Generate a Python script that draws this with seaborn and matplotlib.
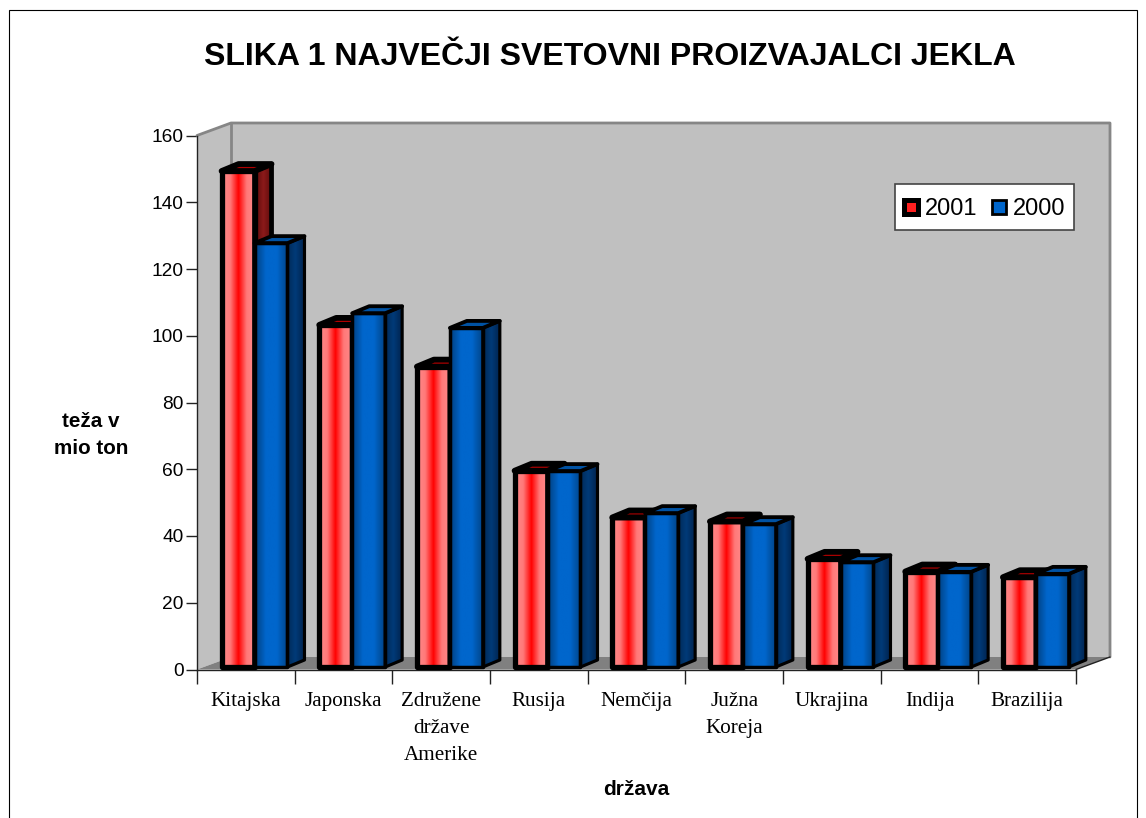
import numpy as np
import pandas as pd
import matplotlib.pyplot as plt
import seaborn as sns
from matplotlib.colors import LinearSegmentedColormap
from matplotlib.legend_handler import HandlerPatch
from matplotlib.patches import Patch, Polygon, Rectangle

drzave = ["Kitajska", "Japonska", "Združene\ndržave\nAmerike", "Rusija", "Nemčija",
          "Južna\nKoreja", "Ukrajina", "Indija", "Brazilija"]
leto_2001 = [148.6, 102.5, 90, 58.8, 44.8, 43.6, 32.4, 28.6, 26.9]
leto_2000 = [127, 106, 101.6, 58.7, 46.1, 42.8, 31.4, 28.5, 27.9]
leta = ["2001", "2000"]
y_ticks = [0, 20, 40, 60, 80, 100, 120, 140, 160]

df = pd.DataFrame({
    "drzava": drzave * 2,
    "teza": leto_2001 + leto_2000,
    "leto": ["2001"] * 9 + ["2000"] * 9,
})

sns.set_theme(style="white")
plt.rcParams["font.family"] = ["Liberation Sans", "DejaVu Sans"]

W, H = 1146, 818
fig = plt.figure(figsize=(W / 100, H / 100), dpi=100)
ax = fig.add_axes([197 / W, (H - 669.5) / H, 879 / W, 534 / H])
ax.patch.set_visible(False)

sns.barplot(data=df, x="drzava", y="teza", hue="leto", hue_order=leta, width=0.675,
            palette={"2001": "#ff0000", "2000": "#0066cc"}, legend=False, ax=ax)

ax.set_xlim(-0.5, 8.5)
ax.set_ylim(0, 160)
xlim, ylim = ax.get_xlim(), ax.get_ylim()

# koliko data enot je en piksel
px_x = 9 / 879
px_y = 160 / 534
wall_dx, wall_dy = 34 * px_x, 12.5 * px_y
bar_dx, bar_dy = 17 * px_x, 7 * px_y
shift_x, shift_y = 8.7 * px_x, 2.5 * px_y

# stene in tla
left, right = xlim
top = ylim[1]
wall_kw = dict(facecolor="#c0c0c0", edgecolor="none", clip_on=False, zorder=0.5)
ax.add_patch(Polygon([(left, 0), (left + wall_dx, wall_dy), (left + wall_dx, top + wall_dy), (left, top)], **wall_kw))
ax.add_patch(Polygon([(left + wall_dx, wall_dy), (right + wall_dx, wall_dy),
                      (right + wall_dx, top + wall_dy), (left + wall_dx, top + wall_dy)], **wall_kw))
ax.add_patch(Polygon([(left, 0), (left + wall_dx, wall_dy), (right + wall_dx, wall_dy), (right, 0)],
                     facecolor="#808080", edgecolor="none", clip_on=False, zorder=0.6))
ax.plot([left, left + wall_dx, right + wall_dx, right + wall_dx], [top, top + wall_dy, top + wall_dy, wall_dy],
        color="#868686", lw=2, clip_on=False, zorder=0.7)
ax.plot([left + wall_dx, left + wall_dx], [wall_dy, top + wall_dy], color="#868686", lw=2, clip_on=False, zorder=0.7)
ax.plot([right, right + wall_dx], [0, wall_dy], color="#222222", lw=1, clip_on=False, zorder=0.7)

front_maps = {
    "2001": LinearSegmentedColormap.from_list("r", ["#ff8a8a", "#ff7878", "#ff0000", "#ff7878", "#ff8a8a"]),
    "2000": LinearSegmentedColormap.from_list("b", ["#004080", "#0066cc", "#0066cc", "#004488"]),
}
side_maps = {
    "2001": LinearSegmentedColormap.from_list("rs", ["#5c0c0c", "#8c1a1a", "#5c0c0c"]),
    "2000": LinearSegmentedColormap.from_list("bs", ["#002a58", "#003a78", "#002450"]),
}
top_colors = {"2001": "#b00000", "2000": "#0052a3"}
line_w = {"2001": 3.8, "2000": 2.5}
grad = np.linspace(0, 1, 64).reshape(1, -1)

bars = list(ax.patches)
bars = [b for b in bars if isinstance(b, Rectangle) and b.get_height() > 0 and b.get_width() < 1]
for i, bar in enumerate(bars):
    leto = "2001" if i < 9 else "2000"
    cat = i % 9
    z = 3 + cat * 2 + (0 if leto == "2001" else 1)
    x0 = bar.get_x() + shift_x
    w = bar.get_width()
    h = bar.get_height()
    y0 = shift_y
    bar.set_x(x0)
    bar.set_y(y0)
    lw = line_w[leto]
    bar.set(facecolor="none", edgecolor="black", linewidth=lw, joinstyle="round", zorder=z + 0.4, clip_on=False)
    ax.imshow(grad, cmap=front_maps[leto], extent=(x0, x0 + w, y0, y0 + h), aspect="auto",
              zorder=z + 0.1, clip_on=False)
    # desna stranica
    side = Polygon([(x0 + w, y0), (x0 + w + bar_dx, y0 + bar_dy), (x0 + w + bar_dx, y0 + h + bar_dy), (x0 + w, y0 + h)],
                   facecolor="none", edgecolor="black", linewidth=lw * 0.9, joinstyle="round",
                   zorder=z + 0.3, clip_on=False)
    ax.add_patch(side)
    im = ax.imshow(grad, cmap=side_maps[leto], extent=(x0 + w, x0 + w + bar_dx, y0, y0 + h + bar_dy),
                   aspect="auto", zorder=z + 0.2)
    im.set_clip_box(fig.bbox)
    im.set_clip_path(side)
    # zgornja ploskev
    ax.add_patch(Polygon([(x0, y0 + h), (x0 + bar_dx, y0 + h + bar_dy), (x0 + w + bar_dx, y0 + h + bar_dy), (x0 + w, y0 + h)],
                         facecolor=top_colors[leto], edgecolor="black", linewidth=lw * 1.1, joinstyle="round",
                         zorder=z + 0.3, clip_on=False))

ax.set_xlim(xlim)
ax.set_ylim(ylim)

# osi
sns.despine(ax=ax)
for s in ["left", "bottom"]:
    ax.spines[s].set_color("#222222")
    ax.spines[s].set_linewidth(1)
ax.set_yticks(y_ticks)
ax.tick_params(axis="y", left=True, length=8, width=1, color="#222222", labelsize=13.8, pad=1.5, labelcolor="black")
ax.set_xticks(range(9))
ax.set_xticklabels(drzave, fontfamily="Liberation Serif", fontsize=15.2, linespacing=1.58)
ax.set_xticks(np.arange(-0.5, 9), minor=True)
ax.tick_params(axis="x", which="major", bottom=False, length=0, pad=16, labelcolor="black")
ax.tick_params(axis="x", which="minor", bottom=True, length=10, width=1, color="#222222")

ax.set_xlabel("država", fontsize=15, fontweight="bold", color="black")
ax.xaxis.set_label_coords(0.5, -0.206)
ax.set_ylabel("teža v\nmio ton", fontsize=14.9, fontweight="bold", rotation=0, color="black",
              ha="center", va="center", linespacing=1.5)
ax.yaxis.set_label_coords((91 - 197) / 879, (669.5 - 435) / 534)

fig.text(609.5 / W, 1 - 57 / H, "SLIKA 1 NAJVEČJI SVETOVNI PROIZVAJALCI JEKLA",
         fontsize=23, fontweight="bold", ha="center", va="center", color="black")


def square_handle(legend, orig_handle, xdescent, ydescent, width, height, fontsize):
    return Rectangle((-xdescent, (height - width) / 2 - ydescent), width, width)


handles = [Patch(facecolor="#ff2020", edgecolor="black", linewidth=3.6, joinstyle="round"),
           Patch(facecolor="#0066cc", edgecolor="black", linewidth=2, joinstyle="round")]
leg = ax.legend(handles, leta, loc="center", bbox_to_anchor=(984.5 / W, 1 - 207 / H),
                bbox_transform=fig.transFigure, ncol=2, fontsize=17, frameon=True, fancybox=False,
                edgecolor="#444444", facecolor="white", framealpha=1, labelcolor="black",
                handlelength=0.6, handleheight=1.45, handletextpad=0.3, columnspacing=0.6,
                borderpad=0.36, borderaxespad=0,
                handler_map={Patch: HandlerPatch(patch_func=square_handle)})
leg.get_frame().set_linewidth(1.2)
leg.set_zorder(50)

# okvir slike
fig.add_artist(Rectangle((9 / W, -0.02), (1137 - 9) / W, 1.02 - 10 / H, transform=fig.transFigure,
                         facecolor="none", edgecolor="black", linewidth=0.8))

fig.savefig("out.png", dpi=100, facecolor="white")
